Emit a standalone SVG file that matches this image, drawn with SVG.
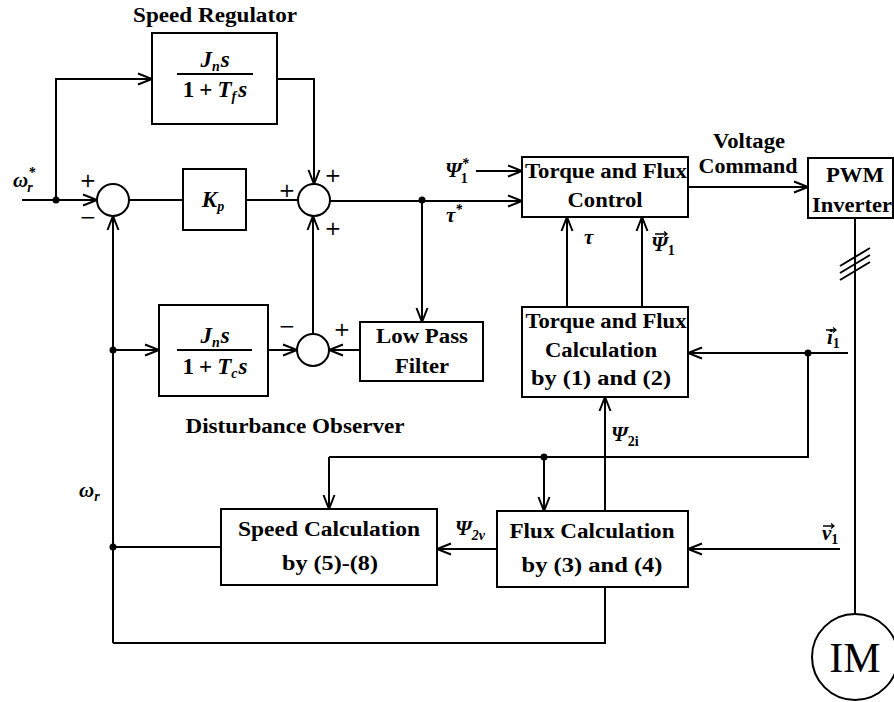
<svg xmlns="http://www.w3.org/2000/svg" width="894" height="702" viewBox="0 0 894 702">
<defs>
<style>
.bx{fill:#fff;stroke:#000;stroke-width:2}
.ln{fill:none;stroke:#000;stroke-width:2}
.ar{fill:none;stroke:#000;stroke-width:2;marker-end:url(#ah)}
.va{fill:none;stroke:#000;stroke-width:1.3}
.t{font-family:"Liberation Serif","Times New Roman",serif;font-weight:bold;font-size:20px;fill:#000}
.m{font-family:"Liberation Serif","Times New Roman",serif;font-weight:bold;font-style:italic;font-size:21px;fill:#000}
.fr{font-size:23px}
.s{font-size:14px}
.n{font-style:normal}
.op{font-family:"DejaVu Sans",sans-serif;font-size:20px;fill:#000}
</style>
<marker id="ah" markerUnits="userSpaceOnUse" markerWidth="18" markerHeight="14" refX="15" refY="7" orient="auto">
<path d="M1,1.5 L15,7 L1,12.5" fill="none" stroke="#000" stroke-width="2"/>
</marker>
</defs>
<rect width="894" height="702" fill="#fff"/>

<g id="connectors">
<line class="ar" x1="22" y1="200" x2="97" y2="200"/>
<polyline class="ar" points="56,200 56,79 152,79"/>
<polyline class="ar" points="277,79 314,79 314,184"/>
<line class="ln" x1="129" y1="200" x2="183" y2="200"/>
<line class="ln" x1="246" y1="200" x2="298" y2="200"/>
<line class="ar" x1="330" y1="201" x2="522" y2="201"/>
<line class="ar" x1="422" y1="200" x2="422" y2="322"/>
<line class="ar" x1="360" y1="350" x2="329" y2="350"/>
<line class="ar" x1="268" y1="350" x2="297" y2="350"/>
<line class="ar" x1="313" y1="334" x2="313" y2="216"/>
<line class="ar" x1="113" y1="350" x2="159" y2="350"/>
<line class="ar" x1="113" y1="643" x2="113" y2="216"/>
<polyline class="ln" points="605,587 605,643 113,643"/>
<line class="ln" x1="221" y1="547" x2="113" y2="547"/>
<line class="ar" x1="476" y1="171" x2="522" y2="171"/>
<line class="ar" x1="688" y1="187" x2="808" y2="187"/>
<line class="ln" x1="855" y1="219" x2="855" y2="614"/>
<line class="ln" x1="840" y1="266" x2="870" y2="248"/>
<line class="ln" x1="840" y1="273" x2="870" y2="255"/>
<line class="ln" x1="840" y1="280" x2="870" y2="262"/>
<line class="ar" x1="848" y1="353" x2="688" y2="353"/>
<polyline class="ln" points="808,353 808,457 329,457"/>
<line class="ar" x1="329" y1="457" x2="329" y2="509"/>
<line class="ar" x1="544" y1="457" x2="544" y2="511"/>
<line class="ar" x1="605" y1="511" x2="605" y2="397"/>
<line class="ar" x1="567" y1="307" x2="567" y2="217"/>
<line class="ar" x1="642" y1="307" x2="642" y2="217"/>
<line class="ar" x1="497" y1="549" x2="437" y2="549"/>
<line class="ar" x1="840" y1="549" x2="688" y2="549"/>
<circle cx="56" cy="200" r="3.5"/>
<circle cx="422" cy="200" r="3.5"/>
<circle cx="113" cy="350" r="3.5"/>
<circle cx="113" cy="547" r="3.5"/>
<circle cx="808" cy="353" r="3.5"/>
<circle cx="544" cy="457" r="3.5"/>
</g>

<g id="speed-regulator">
<text class="t" x="215" y="22" text-anchor="middle" textLength="164" lengthAdjust="spacingAndGlyphs">Speed Regulator</text>
<rect class="bx" x="152" y="33" width="125" height="91"/>
<text class="m fr" x="215" y="67" text-anchor="middle">J<tspan class="s" dy="4">n</tspan><tspan dx="1" dy="-4">s</tspan></text>
<line class="ln" x1="177" y1="74" x2="253" y2="74"/>
<text class="m fr" x="215" y="97" text-anchor="middle"><tspan class="n">1</tspan><tspan class="n" dx="5">+</tspan><tspan dx="5">T</tspan><tspan class="s" dy="4">f</tspan><tspan dx="2" dy="-4">s</tspan></text>
</g>

<g id="sum1">
<circle class="bx" cx="113" cy="200" r="16"/>
<text class="op" x="88" y="187" text-anchor="middle">+</text>
<text class="op" x="88" y="224" text-anchor="middle">−</text>
</g>

<g id="kp">
<rect class="bx" x="183" y="169" width="63" height="61"/>
<text class="m fr" x="213" y="207" text-anchor="middle">K<tspan class="s" dy="4">p</tspan></text>
</g>

<g id="sum2">
<circle class="bx" cx="314" cy="200" r="16"/>
<text class="op" x="287" y="197" text-anchor="middle">+</text>
<text class="op" x="333" y="182" text-anchor="middle">+</text>
<text class="op" x="333" y="235" text-anchor="middle">+</text>
</g>

<g id="observer-filter">
<rect class="bx" x="159" y="305" width="109" height="91"/>
<text class="m fr" x="215" y="343" text-anchor="middle">J<tspan class="s" dy="4">n</tspan><tspan dx="1" dy="-4">s</tspan></text>
<line class="ln" x1="177" y1="350" x2="252" y2="350"/>
<text class="m fr" x="215" y="374" text-anchor="middle"><tspan class="n">1</tspan><tspan class="n" dx="5">+</tspan><tspan dx="5">T</tspan><tspan class="s" dy="4">c</tspan><tspan dx="1" dy="-4">s</tspan></text>
<text class="t" x="295" y="433" text-anchor="middle" textLength="219" lengthAdjust="spacingAndGlyphs">Disturbance Observer</text>
</g>

<g id="sum3">
<circle class="bx" cx="313" cy="350" r="16"/>
<text class="op" x="287" y="333" text-anchor="middle">−</text>
<text class="op" x="342" y="336" text-anchor="middle">+</text>
</g>

<g id="low-pass-filter">
<rect class="bx" x="360" y="322" width="123" height="59"/>
<text class="t" x="422" y="343" text-anchor="middle" textLength="92" lengthAdjust="spacingAndGlyphs">Low Pass</text>
<text class="t" x="422" y="373" text-anchor="middle" textLength="54" lengthAdjust="spacingAndGlyphs">Filter</text>
</g>

<g id="torque-flux-control">
<rect class="bx" x="522" y="157" width="166" height="60"/>
<text class="t" x="606" y="178" text-anchor="middle" textLength="162" lengthAdjust="spacingAndGlyphs">Torque and Flux</text>
<text class="t" x="605" y="207" text-anchor="middle" textLength="75" lengthAdjust="spacingAndGlyphs">Control</text>
</g>

<g id="pwm-inverter">
<text class="t" x="749" y="148" text-anchor="middle" textLength="72" lengthAdjust="spacingAndGlyphs">Voltage</text>
<text class="t" x="748" y="173" text-anchor="middle" textLength="99" lengthAdjust="spacingAndGlyphs">Command</text>
<rect class="bx" x="808" y="158" width="85" height="60"/>
<text class="t" x="855" y="182" text-anchor="middle" textLength="58" lengthAdjust="spacingAndGlyphs">PWM</text>
<text class="t" x="852" y="212" text-anchor="middle" textLength="80" lengthAdjust="spacingAndGlyphs">Inverter</text>
</g>

<g id="torque-flux-calculation">
<rect class="bx" x="522" y="307" width="166" height="90"/>
<text class="t" x="606" y="328" text-anchor="middle" textLength="161" lengthAdjust="spacingAndGlyphs">Torque and Flux</text>
<text class="t" x="601" y="357" text-anchor="middle" textLength="112" lengthAdjust="spacingAndGlyphs">Calculation</text>
<text class="t" x="601" y="385" text-anchor="middle" textLength="140" lengthAdjust="spacingAndGlyphs">by (1) and (2)</text>
</g>

<g id="speed-calculation">
<rect class="bx" x="221" y="509" width="216" height="76"/>
<text class="t" x="329" y="536" text-anchor="middle" textLength="182" lengthAdjust="spacingAndGlyphs">Speed Calculation</text>
<text class="t" x="330" y="570" text-anchor="middle" textLength="96" lengthAdjust="spacingAndGlyphs">by (5)-(8)</text>
</g>

<g id="flux-calculation">
<rect class="bx" x="497" y="511" width="191" height="76"/>
<text class="t" x="592" y="538" text-anchor="middle" textLength="165" lengthAdjust="spacingAndGlyphs">Flux Calculation</text>
<text class="t" x="592" y="572" text-anchor="middle" textLength="141" lengthAdjust="spacingAndGlyphs">by (3) and (4)</text>
</g>

<g id="motor">
<circle class="bx" cx="855" cy="657" r="43"/>
<text x="855" y="672" text-anchor="middle" font-family="Liberation Serif, serif" font-size="42">IM</text>
</g>

<g id="labels">
<text class="m" x="13" y="187">ω<tspan class="s" dy="-10">*</tspan><tspan class="s" dx="-8" dy="15">r</tspan></text>
<text class="m" x="445" y="177">Ψ<tspan class="s" dy="-9">*</tspan><tspan class="s n" dx="-8" dy="15">1</tspan></text>
<text class="m" x="446" y="222">τ<tspan class="s" dy="-8">*</tspan></text>
<text class="m" x="584" y="244">τ</text>
<text class="m" x="651" y="251">Ψ<tspan class="s n" dy="4">1</tspan></text>
<path class="va" d="M655,234 H667 M664,231.5 L667,234 L664,236.5"/>
<text class="m" x="827" y="344">i<tspan class="s n" dy="4">1</tspan></text>
<path class="va" d="M826,330 H836 M833,327.5 L836,330 L833,332.5"/>
<text class="m" x="611" y="441">Ψ<tspan class="s n" dy="5">2i</tspan></text>
<text class="m" x="455" y="535">Ψ<tspan class="s" dy="5">2ν</tspan></text>
<text class="m" x="822" y="540">v<tspan class="s n" dy="4">1</tspan></text>
<path class="va" d="M823,526 H834 M831,523.5 L834,526 L831,528.5"/>
<text class="m" x="79" y="497">ω<tspan class="s" dy="4">r</tspan></text>
</g>
</svg>
